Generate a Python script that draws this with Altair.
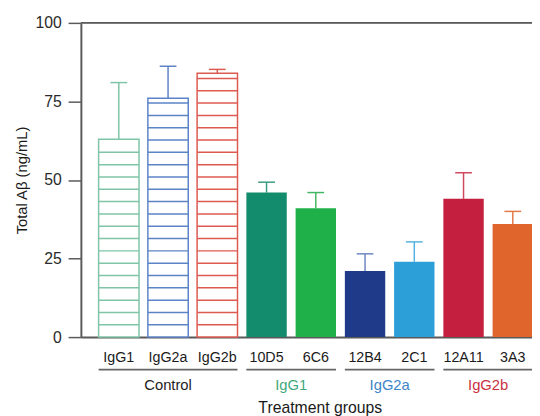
import altair as alt
import numpy as np
import pandas as pd

categories = ["IgG1", "IgG2a", "IgG2b", "10D5", "6C6", "12B4", "2C1", "12A11", "3A3"]
means = [63, 76, 84, 46, 41, 21, 24, 44, 36]
upper = [81, 86.2, 85.2, 49.3, 46, 26.5, 30.3, 52.3, 40]
groups = ["Control", "Control", "Control", "IgG1", "IgG1", "IgG2a", "IgG2a", "IgG2b", "IgG2b"]
hatched = [True, True, True, False, False, False, False, False, False]
bar_colors = ["#7fc4a6", "#5d83c7", "#dd5a50", "#128c6c", "#1fb04a",
              "#203a8a", "#2c9ed8", "#c41f3e", "#e0652d"]
err_colors = ["#7fc4a6", "#5d83c7", "#dd5a50", "#3a9c80", "#45b661",
              "#6d87c2", "#55b2e0", "#d0485e", "#e27a48"]

group_names = ["Control", "IgG1", "IgG2a", "IgG2b"]
group_colors = ["#222222", "#3fa97c", "#3d85c6", "#c8323f"]

HALF = 0.41   # half bar width in index units
CAP = 0.17    # half cap width
HATCH = 3.92  # hatch spacing (styling)
FONT = "Liberation Sans"
AXC = "#5a5a5a"

df = pd.DataFrame({
    "cat": categories, "mean": means, "upper": upper, "group": groups,
    "hatched": hatched, "color": bar_colors, "ecolor": err_colors,
})
df["i"] = np.arange(len(df))
df["x0"] = df["i"] - HALF
df["x1"] = df["i"] + HALF
df["c0"] = df["i"] - CAP
df["c1"] = df["i"] + CAP

rows = []
for _, r in df[df["hatched"]].iterrows():
    k = 1
    while k * HATCH < r["mean"] - 1:
        rows.append({"x0": r["x0"], "x1": r["x1"], "lvl": k * HATCH, "color": r["color"]})
        k += 1
hatch_df = pd.DataFrame(rows)

gdf = pd.DataFrame({"group": group_names, "gcolor": group_colors})
gdf["start"] = [df[df["group"] == g]["i"].min() - HALF for g in group_names]
gdf["end"] = [df[df["group"] == g]["i"].max() + HALF for g in group_names]
gdf["mid"] = (gdf["start"] + gdf["end"]) / 2

xscale = alt.Scale(domain=[-0.77, 8.39], nice=False, zero=False)
yscale = alt.Scale(domain=[0, 100], nice=False)

base = alt.Chart(df)

xax = alt.Axis(title=None, labels=False, ticks=False, grid=False,
               domainColor=AXC, domainWidth=2)
yax = alt.Axis(title="Total Aβ (ng/mL)", values=[0, 25, 50, 75, 100], grid=False,
               tickSize=13, tickColor=AXC, tickWidth=1.5, domainColor=AXC, domainWidth=2,
               labelFontSize=16, labelColor="#2a2a2a", labelPadding=7, labelFont=FONT,
               titleFont=FONT, titleFontSize=15, titleFontWeight="normal",
               titleColor="#1a1a1a", titlePadding=6)

err_stem = base.mark_rule(strokeWidth=1.5).encode(
    x=alt.X("i:Q", scale=xscale, axis=xax),
    y=alt.Y("mean:Q", scale=yscale, axis=yax),
    y2="upper:Q",
    color=alt.Color("ecolor:N", scale=None),
)
err_cap = base.mark_rule(strokeWidth=1.5).encode(
    x="c0:Q", x2="c1:Q", y="upper:Q",
    color=alt.Color("ecolor:N", scale=None),
)
bars_fill = base.transform_filter("!datum.hatched").mark_bar().encode(
    x="x0:Q", x2="x1:Q", y="mean:Q", y2=alt.datum(0),
    fill=alt.Fill("color:N", scale=None),
)
bars_hatch = base.transform_filter("datum.hatched").mark_bar(fill="white", strokeWidth=1.5).encode(
    x="x0:Q", x2="x1:Q", y="mean:Q", y2=alt.datum(0),
    stroke=alt.Stroke("color:N", scale=None),
)
hatch_lines = alt.Chart(hatch_df).mark_rule(strokeWidth=1.5).encode(
    x="x0:Q", x2="x1:Q", y="lvl:Q",
    color=alt.Color("color:N", scale=None),
)
top_rule = alt.Chart(pd.DataFrame({"v": [100]})).mark_rule(color=AXC, strokeWidth=2).encode(
    y="v:Q", x=alt.value(0), x2=alt.value(470),
)
cat_text = base.mark_text(fontSize=14.5, font=FONT, color="#1a1a1a", baseline="alphabetic").encode(
    x="i:Q", y=alt.value(344), text="cat:N",
)
grp_line = alt.Chart(gdf).mark_rule(color="#666666", strokeWidth=1.8).encode(
    x="start:Q", x2="end:Q", y=alt.value(352),
)
grp_text = alt.Chart(gdf).mark_text(fontSize=15, font=FONT, baseline="alphabetic").encode(
    x="mid:Q", y=alt.value(373), text="group:N",
    color=alt.Color("gcolor:N", scale=None),
)
treat_text = alt.Chart(pd.DataFrame({"t": ["Treatment groups"]})).mark_text(
    fontSize=16, font=FONT, color="#1a1a1a", baseline="alphabetic"
).encode(x=alt.value(243), y=alt.value(396), text="t:N")

chart = alt.layer(
    err_stem, err_cap, bars_hatch, hatch_lines, bars_fill, top_rule,
    cat_text, grp_line, grp_text, treat_text,
).properties(
    width=458, height=319,
    padding={"left": 74, "top": 12, "right": 0, "bottom": 77},
    autosize="none",
).configure_view(stroke=None).configure(background="white")

chart.save("out.html", embed_options={"renderer": "svg", "actions": False})
